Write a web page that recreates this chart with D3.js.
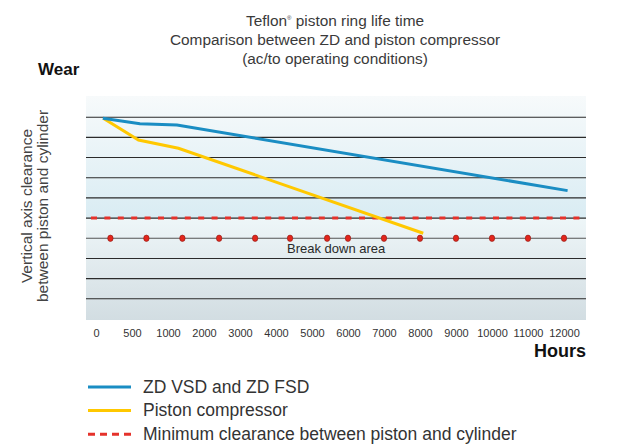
<!DOCTYPE html>
<html>
<head>
<meta charset="utf-8">
<script src="https://cdn.jsdelivr.net/npm/d3@7"></script>
<style>
  html, body { margin: 0; padding: 0; background: #fff; }
  svg { display: block; font-family: "Liberation Sans", Arial, sans-serif; }
</style>
</head>
<body>
<div id="chart"></div>
<script>
// ---- data ----
const hourTicks = [0, 500, 1000, 2000, 3000, 4000, 5000, 6000, 7000, 8000, 9000, 10000, 11000, 12000];
const gridLevels = [1, 2, 3, 4, 5, 6, 7, 8, 9, 10];

// [hours, clearance]
const zdValues = [[95, 9.95], [610, 9.68], [1250, 9.61], [12100, 6.36]];
const pistonValues = [[100, 9.95], [590, 8.87], [1290, 8.46], [8090, 4.25]];

const minClearance = 5;      // minimum clearance line
const breakDownLevel = 4;    // break down area line
const breakDownHours = [200, 700, 1400, 2420, 3420, 4390, 5420, 6000, 7000, 8000, 9000, 10000, 11000, 12000];

const titleLines = ["Comparison between ZD and piston compressor", "(ac/to operating conditions)"];
const legendItems = [
  { label: "ZD VSD and ZD FSD", color: "#1a8dc3", dash: null },
  { label: "Piston compressor", color: "#ffc800", dash: null },
  { label: "Minimum clearance between piston and cylinder", color: "#e5322b", dash: "7,5" }
];

// ---- layout ----
const width = 637, height = 444;
const plot = { left: 86, right: 586, top: 96, bottom: 320 };

const svg = d3.select("#chart").append("svg")
  .attr("width", width).attr("height", height);

// x: hour axis with equal spacing between tick values
const xPoint = d3.scalePoint().domain(hourTicks).range([96, 564]);
const x = d3.scaleLinear().domain(hourTicks).range(hourTicks.map(d => xPoint(d)));
const y = d3.scaleLinear().domain([0, 11]).range([plot.bottom - 1, plot.top + 1]);

// background gradients
const defs = svg.append("defs");
const gTop = defs.append("linearGradient").attr("id", "bgTop").attr("x1", 0).attr("x2", 0).attr("y1", 0).attr("y2", 1);
gTop.append("stop").attr("offset", "0%").attr("stop-color", "#f7fafb");
gTop.append("stop").attr("offset", "100%").attr("stop-color", "#d9ecf3");
const gBot = defs.append("linearGradient").attr("id", "bgBot").attr("x1", 0).attr("x2", 0).attr("y1", 0).attr("y2", 1);
gBot.append("stop").attr("offset", "0%").attr("stop-color", "#eef6f8");
gBot.append("stop").attr("offset", "100%").attr("stop-color", "#d2dde2");

svg.append("rect")
  .attr("x", plot.left).attr("y", plot.top)
  .attr("width", plot.right - plot.left).attr("height", y(minClearance) - plot.top)
  .attr("fill", "url(#bgTop)");
svg.append("rect")
  .attr("x", plot.left).attr("y", y(minClearance))
  .attr("width", plot.right - plot.left).attr("height", plot.bottom - y(minClearance))
  .attr("fill", "url(#bgBot)");

// grid lines
svg.append("g")
  .selectAll("line")
  .data(gridLevels)
  .join("line")
    .attr("x1", plot.left).attr("x2", plot.right)
    .attr("y1", d => y(d)).attr("y2", d => y(d))
    .attr("stroke", d => d === breakDownLevel ? "#555" : "#2a2a2a")
    .attr("stroke-width", 1.1);

// minimum clearance (red dashed)
svg.append("line")
  .attr("x1", plot.left + 5).attr("x2", plot.right - 5)
  .attr("y1", y(minClearance)).attr("y2", y(minClearance))
  .attr("stroke", "#e5322b")
  .attr("stroke-width", 3)
  .attr("stroke-dasharray", "6,7.4");

// break down dots
svg.append("g")
  .selectAll("ellipse")
  .data(breakDownHours)
  .join("ellipse")
    .attr("cx", d => x(d))
    .attr("cy", y(breakDownLevel))
    .attr("rx", 2.7).attr("ry", 3.2)
    .attr("fill", "#e3261c")
    .attr("stroke", "#8a1a12")
    .attr("stroke-width", 0.6);

svg.append("text")
  .attr("x", x(5670)).attr("y", y(3.26))
  .attr("text-anchor", "middle")
  .attr("font-size", 13)
  .attr("fill", "#2a2a2a")
  .text("Break down area");

// series lines
const line = d3.line().x(d => x(d[0])).y(d => y(d[1]));
svg.append("path")
  .datum(pistonValues)
  .attr("d", line)
  .attr("fill", "none")
  .attr("stroke", legendItems[1].color)
  .attr("stroke-width", 3);
svg.append("path")
  .datum(zdValues)
  .attr("d", line)
  .attr("fill", "none")
  .attr("stroke", legendItems[0].color)
  .attr("stroke-width", 3);

// x axis
const xAxis = svg.append("g")
  .attr("transform", `translate(0,${plot.bottom})`)
  .call(d3.axisBottom(x).tickValues(hourTicks).tickSize(0).tickPadding(9).tickFormat(d => d));
xAxis.select(".domain").remove();
xAxis.selectAll("text")
  .attr("font-family", "'Liberation Sans Narrow', 'Liberation Sans', sans-serif")
  .attr("font-size", 11)
  .attr("fill", "#333");

// axis titles
svg.append("text")
  .attr("x", 38).attr("y", 75)
  .attr("font-size", 17).attr("font-weight", "bold").attr("fill", "#111")
  .text("Wear");
svg.append("text")
  .attr("x", plot.right).attr("y", 357)
  .attr("text-anchor", "end")
  .attr("font-size", 18).attr("font-weight", "bold").attr("fill", "#111")
  .text("Hours");

const yTitle = svg.append("text")
  .attr("transform", "translate(32,206) rotate(-90)")
  .attr("text-anchor", "middle")
  .attr("font-size", 15.5)
  .attr("fill", "#444");
yTitle.append("tspan").attr("x", 0).attr("y", 0).text("Vertical axis clearance");
yTitle.append("tspan").attr("x", 0).attr("y", 16).text("between piston and cylinder");

// title
const t1 = svg.append("text")
  .attr("x", 335).attr("y", 26)
  .attr("text-anchor", "middle")
  .attr("font-size", 15.4)
  .attr("fill", "#3a3a3a");
t1.append("tspan").text("Teflon");
t1.append("tspan").attr("font-size", 6).attr("dy", -6).text("\u00AE");
t1.append("tspan").attr("dy", 6).text(" piston ring life time");

svg.append("g")
  .selectAll("text")
  .data(titleLines)
  .join("text")
    .attr("x", 335)
    .attr("y", (d, i) => 45 + i * 19)
    .attr("text-anchor", "middle")
    .attr("font-size", 15.4)
    .attr("fill", "#3a3a3a")
    .text(d => d);

// legend
const legend = svg.append("g")
  .selectAll("g")
  .data(legendItems)
  .join("g")
    .attr("transform", (d, i) => `translate(88,${387 + i * 23.6})`);
legend.append("line")
  .attr("x1", 0).attr("x2", 43)
  .attr("stroke", d => d.color)
  .attr("stroke-width", 3)
  .attr("stroke-dasharray", d => d.dash);
legend.append("text")
  .attr("x", 55).attr("y", 5.5)
  .attr("font-size", 17.5)
  .attr("fill", "#333")
  .text(d => d.label);
</script>
</body>
</html>
